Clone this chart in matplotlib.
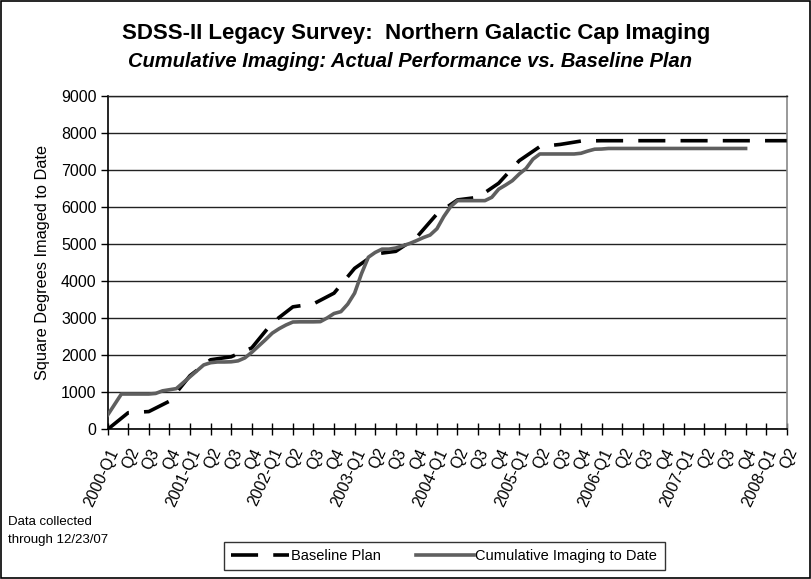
import matplotlib
matplotlib.use("Agg")
import matplotlib.pyplot as plt
import numpy as np
from matplotlib.patches import Rectangle

plt.rcParams['font.family'] = ['Liberation Sans', 'DejaVu Sans']

# Quarter labels 2000-Q1 .. 2008-Q2
years = list(range(2000, 2009))
quarter_labels = []
for y in years:
    for q in range(1, 5):
        if y == 2008 and q > 2:
            break
        quarter_labels.append(f"{y}-Q{q}" if q == 1 else f"Q{q}")

# Baseline plan (quarterly, square degrees)
baseline = [0, 450, 480, 760, 1450, 1880, 1960, 2200, 2880, 3310, 3390, 3680,
            4350, 4740, 4810, 5180, 5820, 6200, 6270, 6650, 7260, 7640, 7700, 7790,
            7800, 7800, 7800, 7800, 7800, 7800, 7800, 7800, 7800, 7800]

# Cumulative imaging to date (monthly, Jan 2000 .. Dec 2007)
actual = [386, 670, 954, 954, 954, 954, 954, 970, 1040, 1070, 1100, 1260,
          1420, 1580, 1740, 1800, 1820, 1820, 1825, 1850, 1930, 2080, 2250, 2420,
          2600, 2720, 2820, 2900, 2905, 2905, 2905, 2910, 3010, 3130, 3180, 3384,
          3680, 4205, 4650, 4780, 4870, 4870, 4900, 4960, 5020, 5097, 5180, 5250,
          5420, 5750, 6020, 6180, 6180, 6180, 6180, 6180, 6270, 6490, 6600, 6720,
          6900, 7050, 7300, 7441, 7441, 7441, 7441, 7441, 7441, 7460, 7520, 7570,
          7575, 7590, 7590, 7590, 7590, 7590, 7590, 7590, 7590, 7590, 7590, 7590,
          7590, 7590, 7590, 7590, 7590, 7590, 7590, 7590, 7590, 7590]

fig = plt.figure(figsize=(8.12, 5.79), dpi=100)
ax = fig.add_axes([0.1326, 0.2585, 0.8363, 0.5752])

ax.set_ylim(0, 9000)
ax.set_xlim(0, len(quarter_labels) - 1)
ax.set_yticks(np.arange(0, 9001, 1000))
ax.yaxis.grid(True, color='#222222', linewidth=1.0)
ax.set_axisbelow(True)

xb = np.arange(len(baseline))
xa = np.arange(len(actual)) / 3.0

ax.plot(xb, baseline, color='black', linewidth=2.6, dashes=(7.5, 4.2),
        dash_capstyle='butt', label='Baseline Plan', zorder=3)
ax.plot(xa, actual, color='#5f5f5f', linewidth=2.6, label='Cumulative Imaging to Date',
        solid_joinstyle='round', zorder=4)

ax.set_xticks(np.arange(len(quarter_labels)))
ax.set_xticklabels(quarter_labels, rotation=65, ha='right', va='top',
                   rotation_mode='anchor', fontsize=11.5)
ax.tick_params(axis='x', direction='inout', length=8, width=1, pad=8)
ax.tick_params(axis='y', direction='out', length=5, width=1, labelsize=11.5, pad=3)

for s in ['left', 'bottom']:
    ax.spines[s].set_color('black')
    ax.spines[s].set_linewidth(1.2)
ax.spines['top'].set_color('#222222')
ax.spines['top'].set_linewidth(1.0)
ax.spines['right'].set_color('#888888')
ax.spines['right'].set_linewidth(1.2)

ax.set_ylabel('Square Degrees Imaged to Date', fontsize=11.8, labelpad=8)

fig.text(0.512, 0.943, 'SDSS-II Legacy Survey:  Northern Galactic Cap Imaging',
         ha='center', va='center', fontsize=16, fontweight='bold')
fig.text(0.505, 0.894, 'Cumulative Imaging: Actual Performance vs. Baseline Plan',
         ha='center', va='center', fontsize=14.5, fontweight='bold', fontstyle='italic')

fig.text(0.01, 0.083, 'Data collected\nthrough 12/23/07', ha='left', va='center',
         fontsize=9.5, linespacing=1.6)

leg = fig.legend(loc='center', bbox_to_anchor=(0.547, 0.040), ncol=2, frameon=True,
                 fancybox=False, edgecolor='black', fontsize=10.5, handlelength=4.0,
                 handletextpad=0.1, columnspacing=2.4, borderpad=0.5, borderaxespad=0)
leg.get_frame().set_linewidth(1.0)

fig.patches.append(Rectangle((0.001, 0.001), 0.997, 0.997, transform=fig.transFigure,
                             fill=False, edgecolor='black', linewidth=1.2))

fig.savefig('out.png', dpi=100)
